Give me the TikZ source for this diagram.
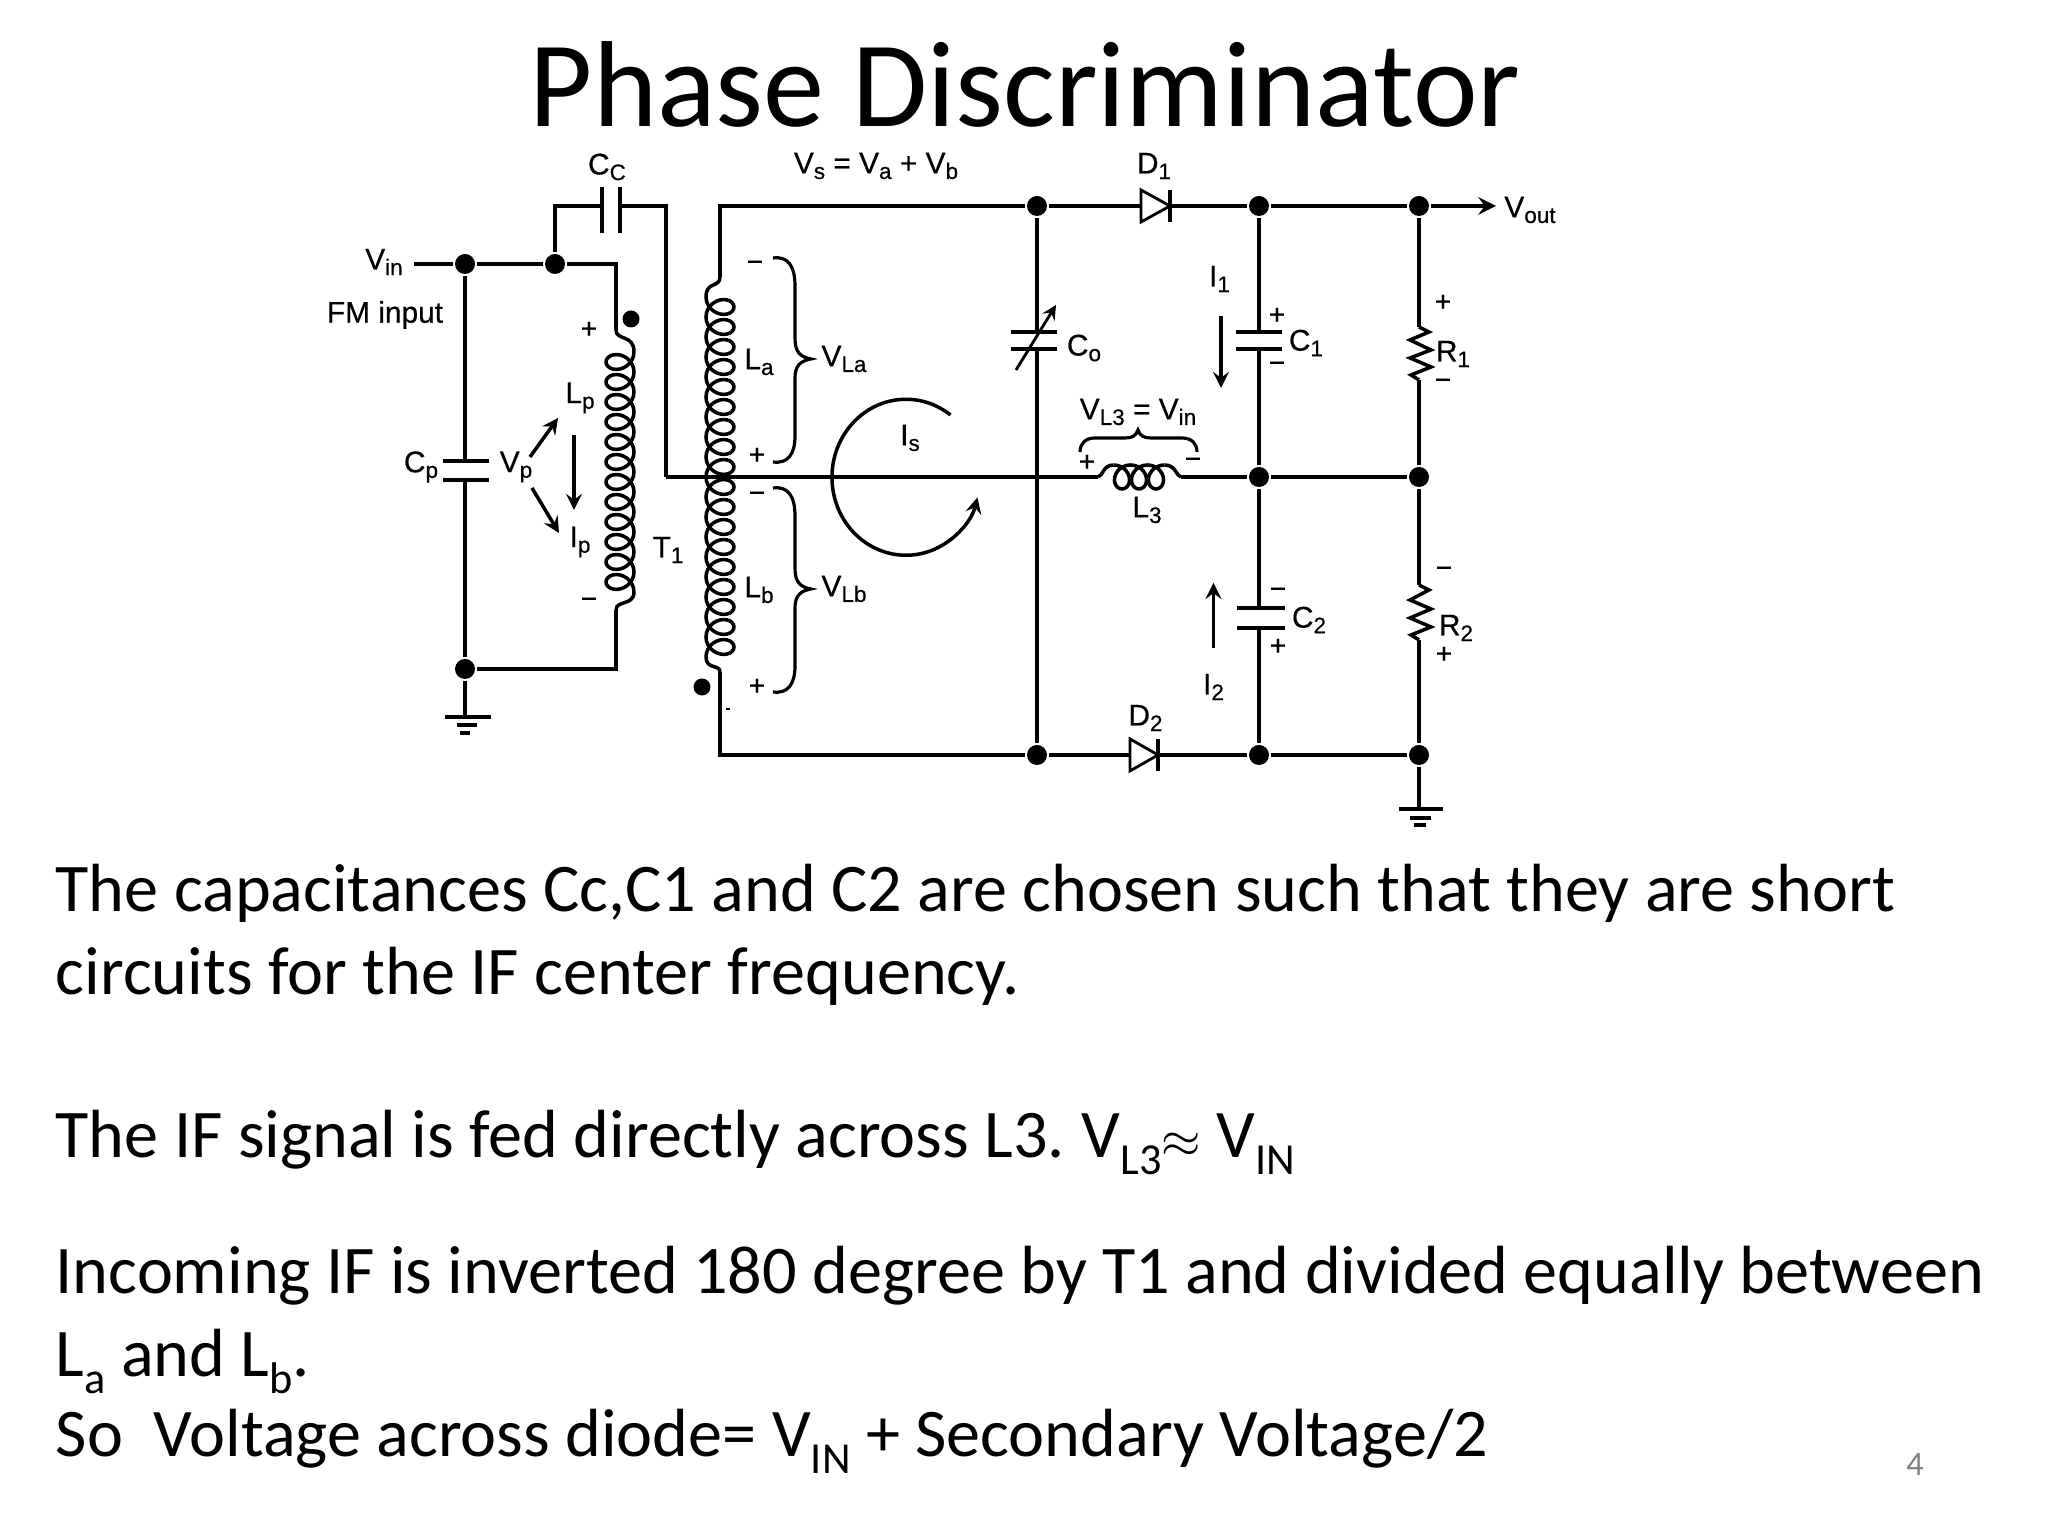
\documentclass[tikz,border=0pt]{standalone}
\usepackage{fontspec}
\setmainfont{Carlito}
\newfontfamily\circfont[FakeBold=0.5]{Liberation Sans}
\usetikzlibrary{arrows}

\tikzset{
  junct/.style={circle,fill=black,inner sep=0pt,minimum size=0.2cm},
  poldot/.style={circle,fill=black,inner sep=0pt,minimum size=0.17cm},
  lab/.style={font=\circfont\fontsize{8.5}{10}\selectfont,inner sep=0pt},
  sign/.style={font=\circfont\fontsize{8}{10}\selectfont,inner sep=0pt},
  body/.style={font=\fontsize{19.4}{23}\selectfont,anchor=base west,inner sep=0pt}
}
\newcommand{\sbs}[2]{#1\raisebox{-1.6pt}{\fontsize{6.4}{8}\selectfont #2}}
\newcommand{\bsb}[2]{#1\raisebox{-4.7pt}{\fontsize{12.6}{14}\selectfont #2}}

\begin{document}
\begin{tikzpicture}[line width=1pt]

\useasboundingbox (0,0) rectangle (20.48,15.36);

\node[font=\fontsize{34.8}{40}\selectfont,anchor=base,inner sep=0pt] (title) at (10.25,14.09) {Phase Discriminator};

% junctions
\coordinate (vinw) at (4.14,12.72);
\node[junct] (jin) at (4.65,12.72) {};
\node[junct] (jcc) at (5.55,12.72) {};
\node[junct] (jgnd) at (4.65,8.67) {};
\node[junct] (jco) at (10.37,13.30) {};
\node[junct] (jc1) at (12.59,13.30) {};
\node[junct] (jr1) at (14.19,13.30) {};
\node[junct] (jmid) at (12.59,10.59) {};
\node[junct] (jr2) at (14.19,10.59) {};
\node[junct] (jco2) at (10.37,7.81) {};
\node[junct] (jc2) at (12.59,7.81) {};
\node[junct] (jr3) at (14.19,7.81) {};

\node[poldot] (dotp) at (6.31,12.17) {};
\node[poldot] (dots) at (7.02,8.49) {};

% primary side
\coordinate (lptop) at (6.16,12.06);
\coordinate (lpbot) at (6.16,9.26);
\coordinate (cca) at (6.02,13.30);
\coordinate (ccb) at (6.20,13.30);
\coordinate (ctap) at (6.66,10.59);
\coordinate (cpa) at (4.65,10.75);
\coordinate (cpb) at (4.65,10.56);
\coordinate (gnda) at (4.65,8.19);

\draw (vinw)--(jin)--(jcc)-|(lptop);
\draw (jcc)|-(cca);
\draw (ccb)-|(ctap);
\draw (jin)--(cpa);
\draw (cpb)--(jgnd)--(gnda);
\draw (lpbot)|-(jgnd);
\draw (6.02,13.49)--(6.02,13.03);
\draw (6.20,13.49)--(6.20,13.03);
\draw (4.43,10.75)--(4.89,10.75);
\draw (4.43,10.56)--(4.89,10.56);
\draw (4.45,8.19)--(4.91,8.19);
\draw (4.57,8.11)--(4.77,8.11);
\draw (4.60,8.03)--(4.70,8.03);

\draw (lptop) .. controls (6.16,11.95) and (6.34,12.02) .. (6.34,11.84);
\draw plot[domain=0:4320,samples=289] ({6.20+0.14*cos(\x)},{11.84-0.2*\x/360-0.12*sin(\x)});
\draw (6.34,9.44) .. controls (6.34,9.30) and (6.16,9.36) .. (lpbot);

% secondary side
\coordinate (lstop) at (7.20,12.59);
\coordinate (lsbot) at (7.20,8.64);

\draw (lstop)|-(jco);
\draw (lsbot)|-(jco2);
\draw (lstop) .. controls (7.20,12.48) and (7.06,12.55) .. (7.06,12.39);
\draw plot[domain=0:6480,samples=433] ({7.20-0.14*cos(\x)},{12.39-0.2*\x/360-0.12*sin(\x)});
\draw (7.06,8.79) .. controls (7.06,8.66) and (7.20,8.72) .. (lsbot);
\draw[line width=0.4pt] (7.26,8.27)--(7.30,8.27);

\foreach \yy in {0,-2.3}
\draw[line width=0.9pt,yshift=\yy cm] (7.73,12.78) .. controls (7.88,12.80) and (7.95,12.70) .. (7.95,12.50)
--(7.95,11.98) .. controls (7.95,11.84) and (8.00,11.79) .. (8.11,11.77)
.. controls (8.00,11.75) and (7.95,11.70) .. (7.95,11.58)
--(7.95,11.00) .. controls (7.95,10.82) and (7.88,10.72) .. (7.73,10.74);

% rails
\coordinate (d1a) at (11.41,13.30);
\coordinate (d1k) at (11.70,13.30);
\coordinate (vout) at (14.96,13.30);
\coordinate (d2a) at (11.30,7.81);
\coordinate (d2k) at (11.58,7.81);

\draw[line width=1.2pt] (jco)--(d1a);
\draw[line width=1.2pt] (d1k)--(jc1)--(jr1);
\draw[line width=1.2pt,-stealth] (jr1)--(vout);
\draw[line width=1.2pt] (jco2)--(d2a);
\draw[line width=1.2pt] (d2k)--(jc2)--(jr3);
\draw[line width=1.2pt] (7.20,7.81)--(jco2);
\draw[line width=1.2pt] (7.20,13.30)--(jco);

\draw[line width=0.8pt] (d1a)--(11.41,13.46)--(d1k)--(11.41,13.14)--cycle;
\draw (11.70,13.46)--(11.70,13.14);
\draw[line width=0.8pt] (d2a)--(11.30,7.97)--(d2k)--(11.30,7.65)--cycle;
\draw (11.58,7.97)--(11.58,7.65);

% capacitor Co
\coordinate (coa) at (10.37,12.04);
\coordinate (cob) at (10.37,11.87);
\draw (jco)--(coa);
\draw (cob)--(jco2);
\draw (10.11,12.04)--(10.57,12.04);
\draw (10.11,11.87)--(10.57,11.87);
\draw[line width=0.8pt,-stealth] (10.16,11.66)--(10.56,12.31);

% L3 and middle wire
\coordinate (l3a) at (10.98,10.59);
\coordinate (l3b) at (11.81,10.59);
\draw (ctap)--(l3a);
\draw (l3b)--(jmid)--(jr2);
\draw (l3a) .. controls (11.03,10.60) and (11.03,10.71) .. (11.135,10.71);
\draw plot[domain=0:1080,samples=73] ({11.135+0.17*\x/360+0.115*sin(\x)},{10.59+0.12*cos(\x)});
\draw (11.645,10.71) .. controls (11.76,10.71) and (11.76,10.60) .. (l3b);
\draw[line width=0.9pt] (10.80,10.84) .. controls (10.80,10.92) and (10.85,10.98) .. (10.95,10.98)
--(11.25,10.98) .. controls (11.32,10.98) and (11.36,11.00) .. (11.38,11.06)
.. controls (11.40,11.00) and (11.44,10.98) .. (11.51,10.98)
--(11.82,10.98) .. controls (11.92,10.98) and (11.97,10.92) .. (11.97,10.84);

% C1 and C2
\coordinate (c1a) at (12.59,12.04);
\coordinate (c1b) at (12.59,11.87);
\coordinate (c2a) at (12.59,9.28);
\coordinate (c2b) at (12.59,9.08);
\draw (jc1)--(c1a);
\draw (c1b)--(jmid)--(c2a);
\draw (c2b)--(jc2);
\draw (12.36,12.04)--(12.82,12.04);
\draw (12.36,11.87)--(12.82,11.87);
\draw (12.37,9.28)--(12.85,9.28);
\draw (12.37,9.08)--(12.85,9.08);

% R1 and R2
\coordinate (r1a) at (14.19,12.09);
\coordinate (r1b) at (14.19,11.56);
\coordinate (r2a) at (14.19,9.51);
\coordinate (r2b) at (14.19,8.96);
\coordinate (gndb) at (14.19,7.27);
\draw (jr1)--(r1a);
\draw (r1b)--(jr2)--(r2a);
\draw (r2b)--(jr3)--(gndb);
\draw (r1a)--++(0.10,-0.05)--++(-0.19,-0.08)--++(0.21,-0.10)--++(-0.21,-0.08)--++(0.21,-0.09)--++(-0.20,-0.08)--(r1b);
\draw (r2a)--++(0.10,-0.05)--++(-0.19,-0.10)--++(0.21,-0.09)--++(-0.21,-0.09)--++(0.21,-0.09)--++(-0.20,-0.08)--(r2b);
\draw (13.99,7.27)--(14.43,7.27);
\draw (14.10,7.18)--(14.31,7.18);
\draw (14.14,7.11)--(14.26,7.11);

% current arrows
\coordinate (vpa) at (5.30,10.79);
\coordinate (vpb) at (5.58,11.18);
\coordinate (vpc) at (5.32,10.48);
\coordinate (vpd) at (5.59,10.03);
\draw[-stealth] (vpa)--(vpb);
\draw[-stealth] (vpc)--(vpd);
\draw[-stealth] (5.74,11.01)--(5.74,10.26);
\draw[-stealth] (12.21,12.20)--(12.21,11.48);
\draw[-stealth] (12.135,8.88)--(12.135,9.53);
\draw[-stealth] (9.505,11.21) arc[start angle=53,end angle=345,x radius=0.74,y radius=0.78];

% labels
\node[lab] (vin) at (3.84,12.74) {\sbs{V}{in}};
\node[lab] (fm) at (3.85,12.21) {FM input};
\node[lab] (cc) at (6.07,13.69) {\sbs{C}{C}};
\node[lab] (cp) at (4.21,10.69) {\sbs{C}{p}};
\node[lab] (vp) at (5.16,10.69) {\sbs{V}{p}};
\node[lab] (lp) at (5.80,11.38) {\sbs{L}{p}};
\node[lab] (ip) at (5.80,9.94) {\sbs{I}{p}};
\node[lab] (t1) at (6.68,9.86) {\sbs{T}{1}};
\node[lab] (la) at (7.59,11.74) {\sbs{L}{a}};
\node[lab] (vla) at (8.44,11.77) {\sbs{V}{La}};
\node[lab] (lb) at (7.59,9.46) {\sbs{L}{b}};
\node[lab] (vlb) at (8.44,9.47) {\sbs{V}{Lb}};
\node[lab] (vs) at (8.76,13.70) {\sbs{V}{s} = \sbs{V}{a} + \sbs{V}{b}};
\node[lab] (d1) at (11.54,13.70) {\sbs{D}{1}};
\node[lab] (d2) at (11.455,8.18) {\sbs{D}{2}};
\node[lab] (vo) at (15.30,13.26) {\sbs{V}{out}};
\node[lab] (i1) at (12.195,12.57) {\sbs{I}{1}};
\node[lab] (i2) at (12.135,8.49) {\sbs{I}{2}};
\node[lab] (is) at (9.10,10.98) {\sbs{I}{s}};
\node[lab] (co) at (10.84,11.88) {\sbs{C}{o}};
\node[lab] (c1) at (13.06,11.93) {\sbs{C}{1}};
\node[lab] (c2) at (13.09,9.16) {\sbs{C}{2}};
\node[lab] (r1) at (14.53,11.82) {\sbs{R}{1}};
\node[lab] (r2) at (14.56,9.08) {\sbs{R}{2}};
\node[lab] (l3) at (11.47,10.26) {\sbs{L}{3}};
\node[lab] (vl3) at (11.38,11.24) {\sbs{V}{L3} = \sbs{V}{in}};

\node[sign] (spa) at (5.89,12.06) {+};
\node[sign] (spb) at (5.89,9.33) {−};
\node[sign] (ssa) at (7.55,12.70) {−};
\node[sign] (ssb) at (7.57,10.80) {+};
\node[sign] (ssc) at (7.57,10.39) {−};
\node[sign] (ssd) at (7.57,8.49) {+};
\node[sign] (sla) at (10.87,10.73) {+};
\node[sign] (slb) at (11.93,10.73) {−};
\node[sign] (sca) at (12.77,12.20) {+};
\node[sign] (scb) at (12.77,11.69) {−};
\node[sign] (scc) at (12.78,9.43) {−};
\node[sign] (scd) at (12.78,8.89) {+};
\node[sign] (sra) at (14.43,12.33) {+};
\node[sign] (srb) at (14.43,11.52) {−};
\node[sign] (src) at (14.44,9.64) {−};
\node[sign] (srd) at (14.44,8.81) {+};

% text of the slide
\node[body] (ta) at (0.54,6.24) {The capacitances Cc,C1 and C2 are chosen such that they are short};
\node[body] (tb) at (0.54,5.41) {circuits for the IF center frequency.};
\node[body] (tc) at (0.54,3.78) {The IF signal is fed directly across L3.\kern-1pt{} \bsb{V}{L3}{\fontsize{15}{18}\selectfont$\approx$} \bsb{V}{IN}};
\node[body] (td) at (0.54,2.42) {Incoming IF is inverted 180 degree by T1 and divided equally between};
\node[body] (te) at (0.54,1.59) {\bsb{L}{a} and \bsb{L}{b}.};
\node[body] (tf) at (0.54,0.79) {So\ \ Voltage across diode= \bsb{V}{IN} + Secondary Voltage/2};
\node[font=\fontsize{9.7}{12}\selectfont,text=gray,inner sep=0pt] (page) at (19.15,0.71) {4};

\end{tikzpicture}
\end{document}
